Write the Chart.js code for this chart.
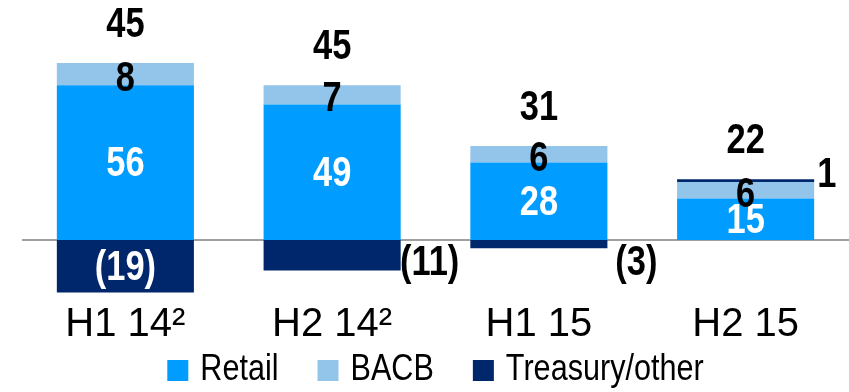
<!DOCTYPE html>
<html>
<head>
<meta charset="utf-8">
<script src="https://cdn.jsdelivr.net/npm/chart.js@4"></script>
<style>
  html, body { margin: 0; padding: 0; background: #fff; }
  #wrap { width: 849px; height: 392px; }
</style>
</head>
<body>
<div id="wrap"><canvas id="myChart"></canvas></div>
<script>
const periods = ['H1 14²', 'H2 14²', 'H1 15', 'H2 15'];
const retail = [56, 49, 28, 15];
const bacb = [8, 7, 6, 6];
const treasury = [-19, -11, -3, 1];

const FONT = "'Liberation Sans', Arial, sans-serif";
const SQUEEZE = 0.82; // value labels are drawn condensed

function fmt(v) {
    return v < 0 ? '(' + Math.abs(v) + ')' : String(v);
}

function narrowText(ctx, txt, x, y, align, baseline, sx) {
    ctx.save();
    ctx.translate(x, y);
    ctx.scale(sx || SQUEEZE, 1);
    ctx.textAlign = align;
    ctx.textBaseline = baseline;
    ctx.fillText(txt, 0, 0);
    ctx.restore();
}

// value labels on segments, totals above each column, zero line under bars
const labelPlugin = {
    id: 'labels',
    beforeDatasetsDraw(chart) {
        const ctx = chart.ctx;
        const y0 = chart.scales.y.getPixelForValue(0);
        ctx.save();
        ctx.strokeStyle = '#a0a0a0';
        ctx.lineWidth = 2;
        ctx.beginPath();
        ctx.moveTo(chart.chartArea.left, y0);
        ctx.lineTo(chart.chartArea.right, y0);
        ctx.stroke();
        ctx.restore();
    },
    afterDatasetsDraw(chart) {
        const ctx = chart.ctx;
        const yScale = chart.scales.y;
        const y0 = yScale.getPixelForValue(0);
        ctx.save();
        ctx.font = 'bold 42px ' + FONT;

        chart.data.datasets.forEach((ds, di) => {
            const meta = chart.getDatasetMeta(di);
            meta.data.forEach((bar, i) => {
                const v = ds.data[i];
                const top = Math.min(bar.y, bar.base);
                const bottom = Math.max(bar.y, bar.base);
                const h = bottom - top;
                const mid = (top + bottom) / 2;
                const right = bar.x + bar.width / 2;
                if (di === 0) {
                    ctx.fillStyle = '#fff';
                    narrowText(ctx, fmt(v), bar.x, mid + 2, 'center', 'middle');
                } else if (di === 1) {
                    ctx.fillStyle = '#000';
                    narrowText(ctx, fmt(v), bar.x, mid + 5, 'center', 'middle');
                } else if (h > 40) {
                    ctx.fillStyle = '#fff';
                    narrowText(ctx, fmt(v), bar.x, mid + 2, 'center', 'middle');
                } else if (v < 0) {
                    // small negatives sit beside the bar, just under the zero line
                    ctx.fillStyle = '#000';
                    narrowText(ctx, fmt(v), right + 29, y0 + 2, 'center', 'top');
                } else {
                    ctx.fillStyle = '#000';
                    narrowText(ctx, fmt(v), right + 3, top - 4, 'left', 'middle');
                }
            });
        });

        // column totals above the positive stack
        ctx.fillStyle = '#000';
        periods.forEach((p, i) => {
            const total = retail[i] + bacb[i] + treasury[i];
            const posTop = retail[i] + bacb[i] + Math.max(treasury[i], 0);
            const x = chart.getDatasetMeta(0).data[i].x;
            narrowText(ctx, String(total), x, yScale.getPixelForValue(posTop) - 38, 'center', 'middle');
        });
        ctx.restore();
    },
    // legend row along the bottom edge
    afterDraw(chart) {
        const ctx = chart.ctx;
        const box = 21, gap = 12, spacing = 39, sx = 0.85;
        const cy = 370.5;
        ctx.save();
        ctx.font = '36px ' + FONT;
        const items = chart.data.datasets.map(ds => ({
            text: ds.label,
            color: ds.backgroundColor,
            w: ctx.measureText(ds.label).width * sx
        }));
        let total = 0;
        items.forEach((it, i) => {
            total += box + gap + it.w + (i < items.length - 1 ? spacing : 0);
        });
        let x = (chart.chartArea.left + chart.width) / 2 - total / 2;
        items.forEach(it => {
            ctx.fillStyle = it.color;
            ctx.fillRect(x, cy - box / 2, box, box);
            ctx.fillStyle = '#000';
            narrowText(ctx, it.text, x + box + gap, cy, 'left', 'middle', sx);
            x += box + gap + it.w + spacing;
        });
        ctx.restore();
    }
};

const ctx = document.getElementById('myChart').getContext('2d');

let myChart = new Chart(ctx, {
    type: 'bar',
    data: {
        labels: periods,
        datasets: [
            { label: 'Retail', data: retail, backgroundColor: '#009cff' },
            { label: 'BACB', data: bacb, backgroundColor: '#93c4e9' },
            { label: 'Treasury/other', data: treasury, backgroundColor: '#00276b' }
        ]
    },
    options: {
        responsive: true,
        maintainAspectRatio: false,
        animation: false,
        layout: { padding: { left: 22, right: 0, top: 19, bottom: 43 } },
        datasets: {
            bar: { categoryPercentage: 1, barPercentage: 0.663, borderWidth: 0, clip: false }
        },
        scales: {
            x: {
                stacked: true,
                grid: { display: false, drawTicks: false },
                border: { display: false },
                ticks: {
                    color: '#000',
                    padding: 0,
                    font: { family: FONT, size: 40, lineHeight: 1.2 }
                }
            },
            y: {
                stacked: true,
                display: false,
                min: -22.06,
                max: 79.93
            }
        },
        plugins: {
            legend: { display: false },
            tooltip: { enabled: false }
        }
    },
    plugins: [labelPlugin]
});
</script>
</body>
</html>
